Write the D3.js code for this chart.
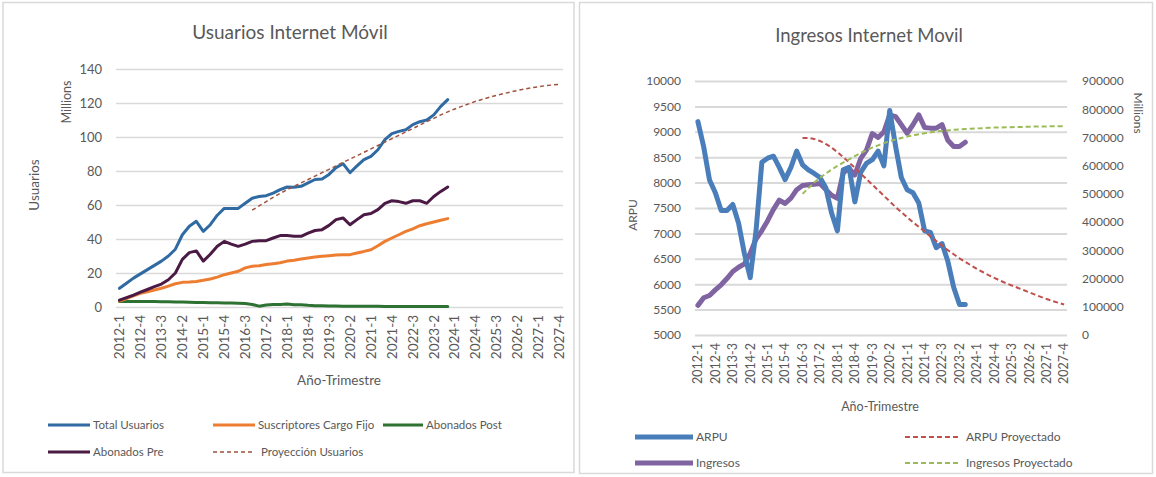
<!DOCTYPE html>
<html>
<head>
<meta charset="utf-8">
<script src="https://cdn.jsdelivr.net/npm/d3@7"></script>
<style>
  body { margin: 0; background: #fff; }
  svg text { font-family: Lato, "Open Sans", sans-serif; fill: #595959; }
</style>
</head>
<body>
<svg id="chart" width="1156" height="477"></svg>
<script>
// ---- data ----
const years = [2012, 2013, 2014, 2015, 2016, 2017, 2018, 2019, 2020, 2021, 2022, 2023, 2024, 2025, 2026, 2027];
const quarterNums = [1, 2, 3, 4];
const quarters = years.flatMap((y) => quarterNums.map((q) => `${y}-${q}`));
const tickLabels = ['2012-1', '2012-4', '2013-3', '2014-2', '2015-1', '2015-4', '2016-3', '2017-2', '2018-1', '2018-4',
  '2019-3', '2020-2', '2021-1', '2021-4', '2022-3', '2023-2', '2024-1', '2024-4', '2025-3', '2026-2', '2027-1', '2027-4'];

// left chart (millions)
const usuariosTicks = [0, 20, 40, 60, 80, 100, 120, 140];
const totalUsuarios = [11, 14, 17, 19.5, 22, 24.5, 27, 30, 34, 42.5, 47.5, 50.4, 44.5, 48.4, 54, 58, 58, 58, 61, 64,
  65, 65.5, 67, 69, 70.6, 70.4, 71, 73, 75, 75.3, 78, 82, 84.3, 79, 83, 86.7, 88.6, 92.5, 98.4, 102,
  103.3, 104.3, 107.3, 109, 110, 113, 118, 122];
const suscriptoresFijo = [3.5, 5, 6.5, 8, 9, 10, 11, 12.3, 13.7, 14.5, 14.7, 15, 15.7, 16.5, 17.6, 19, 20, 21, 23, 24,
  24.3, 25, 25.5, 26, 27, 27.5, 28.2, 28.8, 29.4, 29.8, 30.2, 30.6, 30.8, 30.8, 31.8, 32.7, 33.7, 36, 38.6, 40.6,
  42.5, 44.5, 46, 47.8, 49, 50, 51, 52];
const abonadosPost = [3.3, 3.3, 3.3, 3.3, 3.2, 3.2, 3.1, 3.1, 3.0, 3.0, 2.8, 2.6, 2.6, 2.5, 2.5, 2.4, 2.3, 2.2, 2.0, 1.5,
  0.5, 1.2, 1.5, 1.5, 1.7, 1.3, 1.3, 1.0, 0.8, 0.7, 0.6, 0.6, 0.5, 0.5, 0.5, 0.4, 0.4, 0.4, 0.3, 0.3,
  0.3, 0.3, 0.3, 0.3, 0.3, 0.3, 0.3, 0.3];
const abonadosPre = [4, 5.5, 7, 8.7, 10.3, 12, 13.5, 16, 20, 28, 32, 33, 27, 31, 35.7, 38.6, 37, 35.7, 37, 38.6,
  39, 39, 40.6, 42, 42, 41.6, 41.6, 43.5, 45, 45.5, 48, 51.4, 52.4, 48.4, 51.4, 54.3, 55, 57.3, 61, 62.5,
  62, 61, 62.5, 62.5, 61, 65, 68, 70.6];
const proyUsuariosStart = '2016-4';
const proyUsuarios = [57, 59.5, 62, 64.5, 66.8, 69, 71, 73, 75, 77, 79, 81, 83, 85, 87, 89, 91, 93, 95, 97,
  99, 101, 103, 105, 107, 109, 111, 113, 114.8, 116.5, 118, 119.5, 121, 122.2, 123.4, 124.5, 125.5, 126.5, 127.4, 128.2,
  129, 129.6, 130.2, 130.6, 131];

// right chart
const arpuTicks = [5000, 5500, 6000, 6500, 7000, 7500, 8000, 8500, 9000, 9500, 10000];
const ingresosTicks = [0, 100000, 200000, 300000, 400000, 500000, 600000, 700000, 800000, 900000];
const arpu = [9200, 8700, 8050, 7800, 7450, 7450, 7570, 7200, 6600, 6130, 7050, 8400, 8480, 8520, 8300, 8060, 8300, 8620, 8350, 8250,
  8180, 8100, 7900, 7400, 7050, 8250, 8300, 7620, 8200, 8380, 8450, 8620, 8330, 9420, 8720, 8100, 7860, 7800, 7600, 7050,
  7020, 6720, 6800, 6450, 5940, 5600, 5600];
const ingresos = [105000, 132000, 140000, 160000, 178000, 200000, 225000, 240000, 252000, 290000,
  340000, 370000, 405000, 445000, 478000, 466000, 485000, 515000, 530000, 532000,
  534000, 537000, 515000, 495000, 484000, 575000, 590000, 567000, 625000, 655000,
  714000, 700000, 720000, 780000, 774000, 745000, 715000, 745000, 780000, 735000,
  733000, 733000, 745000, 690000, 668000, 668000, 683000];
const proyStartRight = '2016-3';
const arpuProyectado = [8880, 8880, 8860, 8820, 8760, 8690, 8600, 8500, 8400, 8290, 8180, 8070, 7960, 7850, 7740, 7630,
  7520, 7420, 7320, 7220, 7130, 7040, 6940, 6850, 6760, 6670, 6590, 6510, 6440, 6370, 6300, 6240,
  6180, 6125, 6070, 6020, 5975, 5930, 5885, 5840, 5795, 5750, 5710, 5670, 5635, 5600];
const ingresosProyectado = [500000, 520000, 540000, 557000, 572000, 586000, 599000, 611000, 622000, 634000,
  645000, 655000, 664000, 672000, 680000, 687000, 693000, 698000, 703000, 707000,
  711000, 715000, 718000, 721000, 723000, 725000, 727000, 728500, 730000, 731000,
  732000, 733000, 734000, 735000, 735500, 736000, 736500, 737000, 737500, 738000,
  738500, 739000, 739000, 739500, 740000, 740000];

// ---- helpers ----
const svg = d3.select('#chart');
const GRID = '#d9d9d9';

const toPoints = (values, start = quarters[0]) => {
  const offset = quarters.indexOf(start);
  return values.map((v, i) => ({ q: quarters[offset + i], v }));
};

function drawPanel(x, y, w, h) {
  svg.append('rect')
    .attr('x', x).attr('y', y).attr('width', w).attr('height', h)
    .attr('fill', '#fff').attr('stroke', GRID).attr('stroke-width', 1.5);
}

function legendItem(g, x1, x2, y, color, width, dash, label, size) {
  g.append('line')
    .attr('x1', x1).attr('x2', x2).attr('y1', y).attr('y2', y)
    .attr('stroke', color).attr('stroke-width', width)
    .attr('stroke-dasharray', dash || null);
  g.append('text')
    .attr('x', x2 + (dash ? 6 : 3)).attr('y', y).attr('dy', '0.35em')
    .style('font-size', size)
    .text(label);
}

drawPanel(3, 2.5, 571, 470);
drawPanel(579.5, 2.5, 573, 471);

// ---- left chart ----
{
  const g = svg.append('g');
  const x = d3.scaleBand().domain(quarters).range([116, 563]);
  const y = d3.scaleLinear().domain([0, 140]).range([307, 69]);
  const cx = (q) => x(q) + x.bandwidth() / 2;

  const yAxis = g.append('g')
    .attr('transform', 'translate(116,0)')
    .call(d3.axisLeft(y).tickValues(usuariosTicks).tickSize(-(563 - 116)).tickPadding(14));
  yAxis.select('.domain').remove();
  yAxis.selectAll('line').attr('stroke', GRID).attr('stroke-width', 1.5);
  yAxis.selectAll('text').style('font-size', '13px').style('fill', '#595959');
  yAxis.attr('font-family', null);

  const xAxis = g.append('g')
    .attr('transform', 'translate(0,307)')
    .call(d3.axisBottom(x).tickValues(tickLabels).tickSize(0));
  xAxis.select('.domain').remove();
  xAxis.selectAll('text')
    .attr('transform', 'rotate(-90)')
    .attr('text-anchor', 'end')
    .attr('x', -8).attr('y', 0).attr('dy', '0.35em')
    .style('font-size', '13.5px').style('fill', '#595959');
  xAxis.attr('font-family', null);

  const line = d3.line().x((d) => cx(d.q)).y((d) => y(d.v));
  const series = [
    { values: toPoints(abonadosPost), color: '#2d7233' },
    { values: toPoints(suscriptoresFijo), color: '#ed7d31' },
    { values: toPoints(abonadosPre), color: '#4a1a44' },
    { values: toPoints(totalUsuarios), color: '#2f6aa2' },
  ];
  series.forEach((s) => {
    g.append('path')
      .datum(s.values)
      .attr('d', line)
      .attr('fill', 'none')
      .attr('stroke', s.color)
      .attr('stroke-width', 3)
      .attr('stroke-linejoin', 'round')
      .attr('stroke-linecap', 'round');
  });
  g.append('path')
    .datum(toPoints(proyUsuarios, proyUsuariosStart))
    .attr('d', line)
    .attr('fill', 'none')
    .attr('stroke', '#a0523e')
    .attr('stroke-width', 1.5)
    .attr('stroke-dasharray', '4,3');

  g.append('text').attr('x', 290).attr('y', 39).attr('text-anchor', 'middle')
    .style('font-size', '19px').text('Usuarios Internet Móvil');
  g.append('text').attr('transform', 'translate(71,102) rotate(-90)').attr('text-anchor', 'middle')
    .style('font-size', '12.5px').text('Millions');
  g.append('text').attr('transform', 'translate(39,185) rotate(-90)').attr('text-anchor', 'middle')
    .style('font-size', '13.5px').text('Usuarios');
  g.append('text').attr('x', 339).attr('y', 385).attr('text-anchor', 'middle')
    .style('font-size', '13.5px').text('Año-Trimestre');

  const lg = g.append('g');
  legendItem(lg, 48, 90, 425, '#2f6aa2', 3, null, 'Total Usuarios', '11.5px');
  legendItem(lg, 213, 255, 425, '#ed7d31', 3, null, 'Suscriptores Cargo Fijo', '11.5px');
  legendItem(lg, 383, 423, 425, '#2d7233', 3, null, 'Abonados Post', '11.5px');
  legendItem(lg, 48, 90, 452, '#4a1a44', 3, null, 'Abonados Pre', '11.5px');
  legendItem(lg, 213, 255, 452, '#a0523e', 1.5, '4,3', 'Proyección Usuarios', '11.5px');
}

// ---- right chart ----
{
  const g = svg.append('g');
  const x = d3.scaleBand().domain(quarters).range([695, 1067]);
  const yL = d3.scaleLinear().domain([5000, 10000]).range([335, 81]);
  const yR = d3.scaleLinear().domain([0, 900000]).range([335, 81]);
  const cx = (q) => x(q) + x.bandwidth() / 2;

  const yAxis = g.append('g')
    .attr('transform', 'translate(695,0)')
    .call(d3.axisLeft(yL).tickValues(arpuTicks).tickSize(-(1067 - 695)).tickPadding(14).tickFormat(d3.format('d')));
  yAxis.select('.domain').remove();
  yAxis.selectAll('line').attr('stroke', GRID).attr('stroke-width', 2);
  yAxis.selectAll('text').style('font-size', '12px').style('fill', '#595959');
  yAxis.attr('font-family', null);

  const yAxisR = g.append('g')
    .attr('transform', 'translate(1067,0)')
    .call(d3.axisRight(yR).tickValues(ingresosTicks).tickSize(0).tickPadding(15).tickFormat(d3.format('d')));
  yAxisR.select('.domain').remove();
  yAxisR.selectAll('text').style('font-size', '12px').style('fill', '#595959');
  yAxisR.attr('font-family', null);

  const xAxis = g.append('g')
    .attr('transform', 'translate(0,335)')
    .call(d3.axisBottom(x).tickValues(tickLabels).tickSize(0));
  xAxis.select('.domain').remove();
  xAxis.selectAll('text')
    .attr('transform', 'rotate(-90)')
    .attr('text-anchor', 'end')
    .attr('x', -8).attr('y', 0).attr('dy', '0.35em')
    .style('font-size', '12.5px').style('fill', '#595959');
  xAxis.attr('font-family', null);

  const lineL = d3.line().x((d) => cx(d.q)).y((d) => yL(d.v));
  const lineR = d3.line().x((d) => cx(d.q)).y((d) => yR(d.v));

  g.append('path').datum(toPoints(ingresos)).attr('d', lineR)
    .attr('fill', 'none').attr('stroke', '#8064a2').attr('stroke-width', 5)
    .attr('stroke-linejoin', 'round').attr('stroke-linecap', 'round');
  g.append('path').datum(toPoints(arpu)).attr('d', lineL)
    .attr('fill', 'none').attr('stroke', '#4a7ebb').attr('stroke-width', 5)
    .attr('stroke-linejoin', 'round').attr('stroke-linecap', 'round');
  g.append('path').datum(toPoints(arpuProyectado, proyStartRight)).attr('d', lineL)
    .attr('fill', 'none').attr('stroke', '#c0504d').attr('stroke-width', 2)
    .attr('stroke-dasharray', '5,3');
  g.append('path').datum(toPoints(ingresosProyectado, proyStartRight)).attr('d', lineR)
    .attr('fill', 'none').attr('stroke', '#9bbb59').attr('stroke-width', 2)
    .attr('stroke-dasharray', '5,3');

  g.append('text').attr('x', 869).attr('y', 42).attr('text-anchor', 'middle')
    .style('font-size', '18.5px').text('Ingresos Internet Movil');
  g.append('text').attr('transform', 'translate(637,215) rotate(-90)').attr('text-anchor', 'middle')
    .style('font-size', '12px').text('ARPU');
  g.append('text').attr('transform', 'translate(1134,113) rotate(90)').attr('text-anchor', 'middle')
    .style('font-size', '12px').text('Millions');
  g.append('text').attr('x', 880).attr('y', 411).attr('text-anchor', 'middle')
    .style('font-size', '12.5px').text('Año-Trimestre');

  const lg = g.append('g');
  legendItem(lg, 635, 693, 437, '#4a7ebb', 5, null, 'ARPU', '12px');
  legendItem(lg, 905, 960, 437, '#c0504d', 2, '5,3', 'ARPU Proyectado', '12px');
  legendItem(lg, 635, 693, 463, '#8064a2', 5, null, 'Ingresos', '12px');
  legendItem(lg, 905, 960, 463, '#9bbb59', 2, '5,3', 'Ingresos Proyectado', '12px');
}
</script>
</body>
</html>
